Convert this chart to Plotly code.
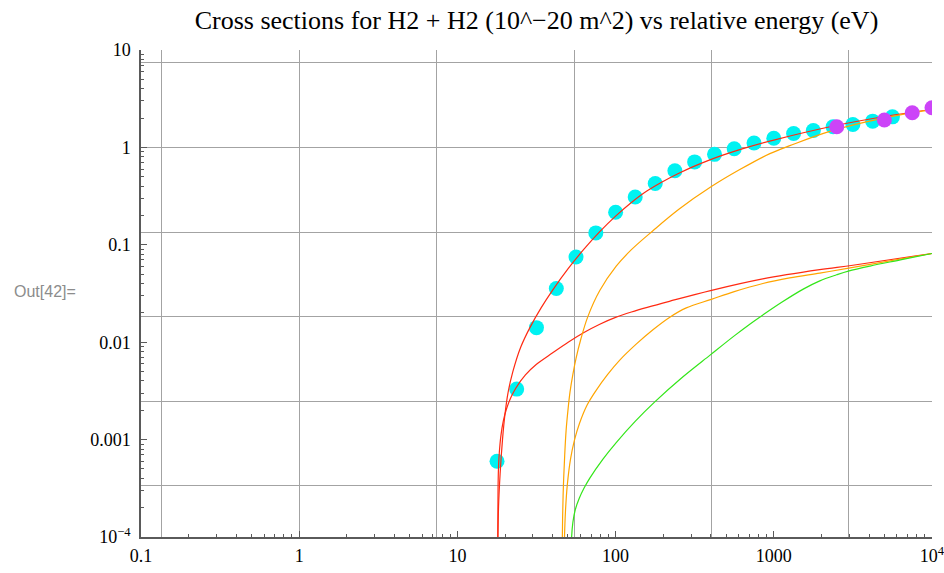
import math
import plotly.graph_objects as go

# ---------------- data ----------------
cyan_x = [17.8, 23.7, 31.6, 42.2, 56.2, 75.0, 100, 133, 178, 237, 316, 422, 562,
          750, 1000, 1334, 1778, 2371, 3162, 4217, 5623]
cyan_y = [6.0e-4, 3.3e-3, 0.0141, 0.0356, 0.075, 0.1325, 0.216, 0.31, 0.426, 0.575,
          0.71, 0.848, 0.968, 1.11, 1.24, 1.39, 1.49, 1.63, 1.72, 1.86, 2.06]

magenta_x = [2500, 5000, 7500, 10000]
magenta_y = [1.63, 1.91, 2.27, 2.55]

red1_x = [17.95, 18.20, 18.62, 19.28, 19.95, 20.89, 22.39, 25.12, 28.84, 33.88, 39.81,
          50.12, 63.10, 79.43, 100, 125.9, 158.5, 251.2, 398.1, 631.0, 1000, 2512,
          5012, 10000]
red1_y = [5.01e-5, 2.04e-4, 4.47e-4, 1.0e-3, 1.78e-3, 3.02e-3, 4.95e-3, 8.87e-3,
          0.01429, 0.02265, 0.03388, 0.05689, 0.09016, 0.1365, 0.1972, 0.2723, 0.3589,
          0.5433, 0.7499, 0.9661, 1.189, 1.687, 2.075, 2.466]

red2_x = [17.95, 18.07, 18.20, 18.41, 18.84, 19.50, 20.42, 21.88, 23.44, 26.92, 31.62,
          39.81, 50.12, 63.10, 79.43, 100, 125.9, 158.5, 218.8, 398.1, 851.1, 1950,
          3162, 10000]
red2_y = [5.01e-5, 3.16e-4, 5.25e-4, 7.41e-4, 1.10e-3, 1.55e-3, 2.06e-3, 2.75e-3,
          3.39e-3, 4.61e-3, 5.93e-3, 7.74e-3, 0.0100, 0.01259, 0.01531, 0.01799,
          0.02042, 0.0228, 0.0263, 0.03388, 0.04467, 0.05559, 0.06166, 0.08147]

orange1_x = [45.81, 46.24, 46.77, 47.64, 48.64, 50.12, 51.52, 53.70, 56.23, 60.26,
             66.68, 79.43, 100.9, 125.9, 172.2, 251.2, 400.9, 609.5, 944.1, 1262,
             2259, 5012, 10000]
orange1_y = [5.01e-5, 1.585e-4, 3.31e-4, 6.76e-4, 1.23e-3, 2.09e-3, 3.09e-3, 4.68e-3,
             6.84e-3, 0.01072, 0.0182, 0.03388, 0.06026, 0.08913, 0.1396, 0.2317,
             0.3936, 0.5916, 0.863, 1.042, 1.462, 2.009, 2.438]

orange2_x = [47.10, 47.42, 48.19, 49.55, 51.88, 54.95, 59.02, 66.07, 75.34, 89.13,
             105.9, 134.9, 172.2, 217.8, 279.9, 402.7, 562.3, 853.1, 1259, 1954,
             2979, 10000]
orange2_y = [5.01e-5, 8.91e-5, 1.82e-4, 3.47e-4, 6.31e-4, 9.89e-4, 1.456e-3, 2.265e-3,
             3.206e-3, 4.677e-3, 6.516e-3, 9.55e-3, 0.01343, 0.01786, 0.02249, 0.02754,
             0.03311, 0.04009, 0.04571, 0.05129, 0.05754, 0.08147]

green_x = [52.24, 52.72, 53.70, 55.59, 59.02, 63.10, 68.39, 83.18, 100.9, 133.4, 176.2,
           266.7, 397.2, 562.3, 704.7, 835.6, 1122, 1535, 1954, 2495, 2958, 4055,
           6310, 10000]
green_y = [5.01e-5, 1.0e-4, 1.413e-4, 1.905e-4, 2.512e-4, 3.162e-4, 3.981e-4, 6.31e-4,
           9.33e-4, 1.549e-3, 2.427e-3, 4.416e-3, 7.413e-3, 0.01161, 0.01531, 0.01862,
           0.0257, 0.03508, 0.04266, 0.04920, 0.0537, 0.06053, 0.06998, 0.08147]

x_tick_vals = [0.1, 1, 10, 100, 1000, 10000]
x_tick_text = ["0.1", "1", "10", "100", "1000", "10<sup>4</sup>"]
y_tick_vals = [1e-4, 1e-3, 1e-2, 0.1, 1, 10]
y_tick_text = ["10<sup>\u22124</sup>", "0.001", "0.01", "0.1", "1", "10"]

# ---------------- style ----------------
grid_x = [math.exp(2 * k) for k in range(-2, 5)]
grid_y = [math.exp(2 * k) for k in range(-5, 2)]
minor_x = [m * 10 ** e for e in range(-1, 4) for m in range(2, 10)]
minor_y = [m * 10 ** e for e in range(-4, 1) for m in range(2, 10)]

SERIF = "Liberation Serif, Times New Roman, serif"
GRID = "#a3a3a3"
AXIS = "#5a5a5a"
RED = "#ff2a12"
ORANGE = "#ffa500"
GREEN = "#33e619"

fig = go.Figure()
fig.add_trace(go.Scatter(x=cyan_x, y=cyan_y, mode="markers",
                         marker=dict(size=15, color="#00f2f2", line=dict(width=0)),
                         showlegend=False, hoverinfo="skip"))
line_series = [(red1_x, red1_y, RED), (red2_x, red2_y, RED),
               (orange1_x, orange1_y, ORANGE), (orange2_x, orange2_y, ORANGE),
               (green_x, green_y, GREEN)]
for xs, ys, col in line_series:
    fig.add_trace(go.Scatter(x=xs, y=ys, mode="lines",
                             line=dict(color=col, width=1.2, shape="spline", smoothing=1.0),
                             showlegend=False, hoverinfo="skip"))
fig.add_trace(go.Scatter(x=magenta_x, y=magenta_y, mode="markers",
                         marker=dict(size=15, color="#cc44f8", line=dict(width=0)),
                         showlegend=False, hoverinfo="skip"))
# overlay subplot carrying the labelled axes
fig.add_trace(go.Scatter(x=[], y=[], xaxis="x2", yaxis="y2", showlegend=False,
                         hoverinfo="skip"))

fig.update_layout(
    width=944, height=573,
    margin=dict(l=141, r=12, t=50, b=36),
    paper_bgcolor="white", plot_bgcolor="white",
    title=dict(text="Cross sections for H2 + H2 (10^\u221220 m^2) vs relative energy (eV)",
               x=0.5, xref="paper", y=0.965, yref="container", yanchor="middle",
               font=dict(family=SERIF, size=26, color="black"), automargin=False),
    xaxis=dict(type="log", range=[-1, 4], tickvals=grid_x, showticklabels=False,
               ticks="", showgrid=True, gridcolor=GRID, gridwidth=1.3,
               zeroline=False, showline=False, automargin=False),
    yaxis=dict(type="log", range=[-4, 1], tickvals=grid_y, showticklabels=False,
               ticks="", showgrid=True, gridcolor=GRID, gridwidth=1.3,
               zeroline=False, showline=False, automargin=False),
    xaxis2=dict(type="log", range=[-1, 4], overlaying="x", anchor="y2", side="bottom",
                tickmode="array", tickvals=x_tick_vals, ticktext=x_tick_text,
                ticks="inside", ticklen=6, tickwidth=1, tickcolor=AXIS,
                showgrid=False, zeroline=False, showline=True, linecolor=AXIS,
                linewidth=1.5, tickfont=dict(family=SERIF, size=18, color="black"),
                ticklabelstandoff=2, ticklabeloverflow="allow", automargin=False,
                minor=dict(tickmode="array", tickvals=minor_x, ticks="inside",
                           ticklen=3, tickcolor=AXIS, showgrid=False)),
    yaxis2=dict(type="log", range=[-4, 1], overlaying="y", anchor="x2", side="left",
                tickmode="array", tickvals=y_tick_vals, ticktext=y_tick_text,
                ticks="inside", ticklen=6, tickwidth=1, tickcolor=AXIS,
                showgrid=False, zeroline=False, showline=True, linecolor=AXIS,
                linewidth=1.5, tickfont=dict(family=SERIF, size=18, color="black"),
                ticklabelstandoff=5, ticklabeloverflow="allow", automargin=False,
                minor=dict(tickmode="array", tickvals=minor_y, ticks="inside",
                           ticklen=3, tickcolor=AXIS, showgrid=False)),
    annotations=[dict(text="Out[42]=", xref="paper", yref="paper", x=-0.1635, y=0.504,
                      xanchor="left", yanchor="middle", showarrow=False,
                      font=dict(family="Liberation Sans, Arial, sans-serif", size=16,
                                color="#8c8c8c"))],
)

fig.write_html("out.html", config={"displayModeBar": False},
               post_script="document.body.style.margin='0px';")
